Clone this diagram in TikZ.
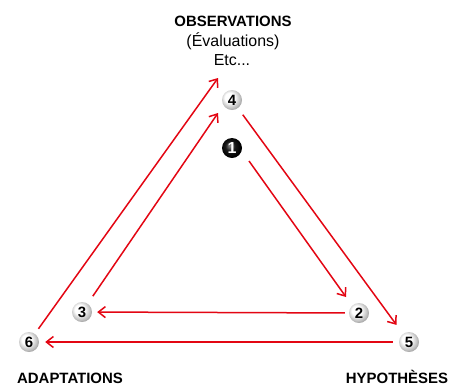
\documentclass[tikz,border=0pt]{standalone}
\usepackage{fontspec}
\setmainfont{Liberation Sans}
\usetikzlibrary{arrows.meta,positioning}
\definecolor{arrred}{HTML}{E30613}
\pgfdeclareradialshading{whiteball}{\pgfpoint{-8bp}{8bp}}{color(0bp)=(white); color(12bp)=(white); color(24bp)=(black!25); color(34bp)=(black!50); color(50bp)=(black!50)}
\pgfdeclareradialshading{blackball}{\pgfpoint{-6bp}{6bp}}{color(0bp)=(black!45); color(12bp)=(black!90); color(25bp)=(black); color(50bp)=(black)}

\begin{document}
\begin{tikzpicture}[x=1bp, y=-1bp, ball/.style={circle, shading=whiteball, inner sep=0pt, minimum size=20bp, font=\bfseries\fontsize{15}{15}\selectfont}, darkball/.style={ball, shading=blackball, text=white, font=\bfseries\fontsize{16}{16}\selectfont}, lbl/.style={font=\bfseries\fontsize{15}{15}\selectfont, inner sep=0pt, anchor=base}, sub/.style={font=\fontsize{16}{16}\selectfont, inner sep=0pt, anchor=base}, myto/.style={draw=arrred, line width=1.5bp, -{Straight Barb[length=7bp, width=11bp]}}]
\useasboundingbox (0,0) rectangle (450,386);
\node[ball] (n4) at (232,100) {4};
\node[darkball] (n1) at (232,148) {1};
\node[ball] (n2) at (359,313) {2};
\node[ball] (n3) at (82,312) {3};
\node[ball] (n5) at (409,342) {5};
\node[ball] (n6) at (29,342) {6};
\node[lbl] (obs) at (233,26.5) {OBSERVATIONS};
\node[sub] (eval) at (233,46) {(Évaluations)};
\node[sub] (etc) at (232,65) {Etc...};
\node[lbl] (adap) at (70,383) {ADAPTATIONS};
\node[lbl] (hyp) at (397,383) {HYPOTHÈSES};
% free ends of the slanted arrows
\coordinate (t6) at (218,78);
\coordinate (t3) at (218,113);
\coordinate (s1) at (249,161);
\coordinate (t1) at (346,297);
\draw[myto, shorten <=6bp] (n6) -- (t6);
\draw[myto, shorten <=9bp] (n3) -- (t3);
\draw[myto, shorten <=8bp, shorten >=11bp] (n4) -- (n5);
\draw[myto] (s1) -- (t1);
\draw[myto, shorten <=4bp, shorten >=5bp] (n2) -- (n3);
\draw[myto, shorten <=6bp, shorten >=6bp] (n5) -- (n6);
\end{tikzpicture}
\end{document}
